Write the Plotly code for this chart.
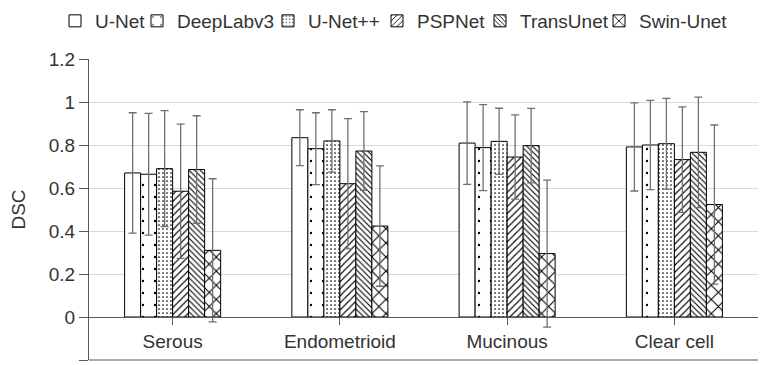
import plotly.graph_objects as go

categories = ["Serous", "Endometrioid", "Mucinous", "Clear cell"]
models = ["U-Net", "DeepLabv3", "U-Net++", "PSPNet", "TransUnet", "Swin-Unet"]

unet = [0.670, 0.834, 0.809, 0.791]
unet_err = [0.280, 0.130, 0.192, 0.205]
deeplab = [0.664, 0.783, 0.788, 0.800]
deeplab_err = [0.283, 0.167, 0.200, 0.208]
unetpp = [0.690, 0.819, 0.817, 0.806]
unetpp_err = [0.270, 0.145, 0.154, 0.211]
pspnet = [0.585, 0.620, 0.744, 0.732]
pspnet_err = [0.312, 0.303, 0.196, 0.245]
transunet = [0.686, 0.772, 0.797, 0.766]
transunet_err = [0.250, 0.183, 0.173, 0.257]
swinunet = [0.310, 0.423, 0.295, 0.523]
swinunet_err = [0.333, 0.280, 0.342, 0.370]

y_ticks = [-0.2, 0, 0.2, 0.4, 0.6, 0.8, 1, 1.2]

values = [unet, deeplab, unetpp, pspnet, transunet, swinunet]
errors = [unet_err, deeplab_err, unetpp_err, pspnet_err, transunet_err, swinunet_err]

# styling (not data)
patterns = [
    dict(shape=""),
    dict(shape=".", size=12, solidity=0.03),
    dict(shape=".", size=4, solidity=0.14),
    dict(shape="/", size=5, solidity=0.22),
    dict(shape="\\", size=4, solidity=0.28),
    dict(shape="x", size=10, solidity=0.2),
]
legend_text_px = [95, 177, 308, 417, 520, 639]

FONT = "Liberation Sans, Arial, sans-serif"
FS = 19
TXT = "#333333"
AX = "#595959"

fig = go.Figure()
for i, (name, v, e, p) in enumerate(zip(models, values, errors, patterns)):
    pat = dict(p)
    pat.update(fgcolor="black", bgcolor="white", fillmode="replace")
    fig.add_trace(go.Bar(
        x=categories, y=v, name=name, showlegend=True,
        marker=dict(color="white", line=dict(color="black", width=1), pattern=pat),
        error_y=dict(type="data", array=e, color="#707070", thickness=1.3, width=4),
        legend="legend" if i == 0 else f"legend{i+1}",
    ))

layout = dict(
    width=760, height=365,
    showlegend=True,
    margin=dict(l=89, r=2, t=59, b=5),
    paper_bgcolor="white", plot_bgcolor="white",
    font=dict(family=FONT, size=FS, color=TXT),
    barmode="group", bargap=0.426, bargroupgap=0,
    xaxis=dict(type="category", anchor="free", position=0.2 / 1.4,
               showline=True, linecolor=AX, linewidth=1,
               ticks="outside", ticklen=7, tickcolor=AX, showgrid=False,
               tickfont=dict(size=FS, color=TXT)),
    yaxis=dict(range=[-0.2, 1.2], tickvals=y_ticks, showgrid=True, gridcolor="#d9d9d9",
               showline=True, linecolor=AX, linewidth=1, ticks="outside", ticklen=9,
               tickcolor=AX, zeroline=False, tickfont=dict(size=FS, color=TXT),
               title=dict(text="DSC", font=dict(size=FS, color=TXT), standoff=18)),
    shapes=[dict(type="line", xref="paper", yref="paper", x0=0, x1=1, y0=0, y1=0,
                 line=dict(color=AX, width=1))],
)
for i, px in enumerate(legend_text_px):
    key = "legend" if i == 0 else f"legend{i+1}"
    layout[key] = dict(x=(px - 40) / 760, y=1 - 21 / 365, xref="container", yref="container",
                       xanchor="left", yanchor="middle", orientation="h",
                       bgcolor="rgba(0,0,0,0)", borderwidth=0,
                       font=dict(family=FONT, size=FS, color=TXT))
fig.update_layout(**layout)
fig.write_html("out.html")
